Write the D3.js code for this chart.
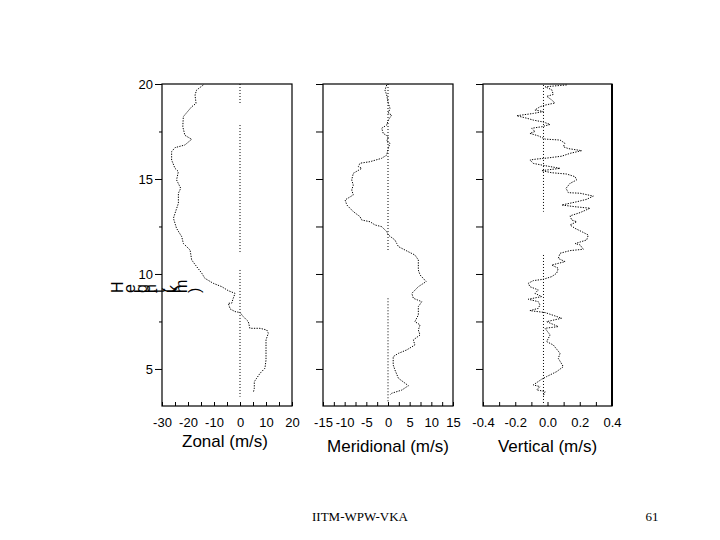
<!DOCTYPE html>
<html><head><meta charset="utf-8">
<script src="https://cdn.jsdelivr.net/npm/d3@7"></script>
<style>body{margin:0;background:#fff}svg{display:block}</style>
</head><body>
<svg id="c" width="720" height="540"></svg>
<script>
// ---- data ----
const zonalH = [19.95,19.68,19.42,18.98,18.8,18.28,17.75,17.3,17.09,16.79,16.65,16.44,16.0,15.56,15.39,14.95,14.51,14.25,13.72,13.19,12.93,12.4,11.96,11.61,11.26,10.74,10.39,10.04,9.77,9.51,9.33,9.12,8.98,8.72,8.46,8.46,8.16,8.02,7.97,7.75,7.49,7.14,7.14,7.14,7.05,6.88,6.53,6.0,5.47,5.04,4.77,4.51,4.33,3.98,3.75];
const zonal  = [-14.1,-16.7,-17.3,-16.9,-18.6,-21.8,-22.0,-21.2,-18.6,-21.2,-25,-26.3,-26.3,-25,-23.7,-24.4,-22.8,-23.7,-23.7,-25,-25.6,-24.4,-22.4,-21.8,-19.2,-18.6,-16.7,-14.7,-13.5,-10.3,-7.0,-4.5,-1.9,-2.6,-3.2,-4.5,-3.8,-1.9,0,1.3,3.2,3.8,5.8,7.7,10.3,10.9,10.0,10.0,10.0,9.6,7.7,6.4,5.5,5.5,5.1];

const meridH = [19.95,19.68,19.42,18.98,18.72,18.46,18.37,18.1,17.84,17.67,17.4,17.23,16.97,16.88,16.62,16.26,16.09,15.91,15.83,15.65,15.56,15.3,14.95,14.68,14.42,14.16,13.9,13.63,13.28,13.02,12.84,12.75,12.58,12.49,12.23,12.05,11.79,11.61,11.44,11.17,11.0,10.74,10.21,9.95,9.6,9.33,8.98,8.72,8.54,8.28,7.84,7.49,7.32,7.05,6.79,6.53,6.26,6.0,5.82,5.65,5.21,4.95,4.51,4.12,3.89,3.72,3.63];
const merid  = [-0.3,-0.7,-0.3,0.07,0.46,0.07,0.85,0.07,-0.3,-1.45,-1.1,0.07,-0.3,0.46,0.07,-0.3,-1.45,-4.15,-6.46,-6.85,-6.07,-8.0,-8.38,-8.0,-8.38,-8.0,-9.9,-9.5,-8.0,-6.46,-6.07,-4.15,-3.0,-1.45,-0.3,0.07,1.6,2.0,2.4,4.7,6.2,7.0,7.0,7.4,8.8,7.0,5.5,5.85,7.8,7.0,7.0,6.2,7.4,7.0,7.4,5.85,6.2,4.3,2.4,1.2,1.2,1.6,2.4,4.7,3.2,0.85,0.46];

const vertH = [19.95,19.9,19.85,19.7,19.45,19.35,19.16,19.0,18.89,18.8,18.63,18.55,18.45,18.33,18.2,18.1,18.0,17.87,17.75,17.67,17.5,17.4,17.27,17.1,17.05,16.88,16.7,16.6,16.49,16.35,16.2,16.1,16.05,16.0,15.82,15.7,15.56,15.44,15.33,15.26,15.12,14.95,14.77,14.51,14.28,14.25,14.1,13.93,13.8,13.63,13.54,13.46,13.23,13.06,12.84,12.75,12.58,12.4,12.23,12.05,11.79,11.6,11.53,11.3,11.23,11.09,10.82,10.65,10.47,10.3,10.04,9.86,9.72,9.65,9.51,9.33,9.16,8.98,8.81,8.67,8.54,8.37,8.19,8.07,7.97,7.67,7.49,7.23,7.14,6.79,6.44,6.26,5.82,5.56,5.12,4.86,4.6,4.46,4.16,4.07,3.9,3.81,3.58];
const vert  = [0.119,0.046,-0.015,0.026,0.036,-0.005,0.026,0.046,-0.015,-0.047,-0.078,-0.026,-0.088,-0.191,-0.129,-0.088,-0.026,0.016,-0.036,-0.098,-0.078,-0.109,-0.057,-0.015,0.078,0.108,0.098,0.129,0.212,0.140,0.088,-0.005,-0.067,-0.109,-0.088,-0.015,0.078,-0.036,0.026,0.119,0.171,0.181,0.140,0.115,0.129,0.202,0.284,0.243,0.181,0.088,0.171,0.264,0.202,0.140,0.150,0.181,0.140,0.171,0.212,0.253,0.243,0.171,0.202,0.222,0.140,0.078,0.067,0.109,0.026,0.067,0.057,0.026,-0.026,-0.088,-0.119,-0.109,-0.057,-0.078,-0.036,-0.119,-0.057,-0.047,-0.057,-0.109,-0.015,0.088,-0.005,0.067,-0.015,0.016,-0.005,0.036,0.078,0.067,0.098,0.057,-0.005,-0.036,-0.088,-0.047,-0.067,-0.015,-0.026];

// dotted reference line segments [top height, bottom height] and their x value
const zonalRef = [[20,18.98],[17.84,11.09],[10.21,3.54]];
const meridRef = [[20,11.26],[8.72,3.2]];
const vertRef  = [[19.95,13.28],[11.0,3.1]];
const refX = [0, 0, -0.025];

const heightTicks = [5,7.5,10,12.5,15,17.5,20];
const heightLabels = [5,10,15,20];
const xTickVals = [d3.range(-30,20.01,5), d3.range(-15,15.01,2.5), d3.range(-0.4,0.401,0.1)];
const xTickLabels = [[-30,-20,-10,0,10,20],[-15,-10,-5,0,5,10,15],[-0.4,-0.2,0,0.2,0.4]];
const xTitles = ["Zonal (m/s)","Meridional (m/s)","Vertical (m/s)"];
const xDomains = [[-30,20],[-15,15],[-0.4,0.4]];
const yTitle = "Height (km)";
const footer = "IITM-WPW-VKA";
const pageNo = "61";

// ---- layout ----
const svg = d3.select("#c");
const font = "'Liberation Sans', Arial, sans-serif";
const panelX = [[162,292],[323,453],[483,612]];
const topY = 84, bottomY = 406;
const y = d3.scaleLinear().domain([3.05,20]).range([bottomY, topY]);
const series = [[zonalH,zonal],[meridH,merid],[vertH,vert]];
const refs = [zonalRef, meridRef, vertRef];
const titleY = [447,452,452];

series.forEach((s, i) => {
  const x = d3.scaleLinear().domain(xDomains[i]).range(panelX[i]);
  const g = svg.append("g");
  // frame
  g.append("rect").attr("x", panelX[i][0]).attr("y", topY)
    .attr("width", panelX[i][1]-panelX[i][0]).attr("height", bottomY-topY)
    .attr("fill","none").attr("stroke","#000").attr("stroke-width",1.2);
  // x axis
  const labs = xTickLabels[i];
  const fmt = i===2 ? d3.format(".1f") : d3.format("d");
  const xa = g.append("g").attr("transform",`translate(0,${bottomY})`)
    .call(d3.axisBottom(x).tickValues(xTickVals[i]).tickSizeInner(-4).tickSizeOuter(0).tickPadding(12)
      .tickFormat(d => labs.some(l => Math.abs(l-d)<1e-9) ? fmt(Math.abs(d)<1e-9?0:d).replace("\u2212","-") : ""));
  xa.select(".domain").remove();
  xa.selectAll("line").attr("stroke","#000");
  xa.selectAll("text").attr("font-family",font).attr("font-size",13).attr("fill","#000");
  // y axis
  const ya = g.append("g").attr("transform",`translate(${panelX[i][0]},0)`)
    .call(d3.axisLeft(y).tickValues(heightTicks).tickSizeOuter(0).tickSizeInner(7).tickPadding(2)
      .tickFormat(d => (i===0 && heightLabels.includes(d)) ? d : ""));
  ya.select(".domain").remove();
  ya.selectAll("line").attr("stroke","#000");
  if (i===0) ya.selectAll(".tick").filter(d => !heightLabels.includes(d)).select("line").attr("x2",-3);
  ya.selectAll("text").attr("font-family",font).attr("font-size",13).attr("fill","#000");
  // reference dotted line
  refs[i].forEach(seg => {
    g.append("line").attr("x1", x(refX[i])).attr("x2", x(refX[i]))
      .attr("y1", y(seg[0])).attr("y2", y(seg[1]))
      .attr("stroke","#000").attr("stroke-width",1).attr("stroke-dasharray","1,2");
  });
  // profile
  const pts = s[0].map((h,k) => [s[1][k], h]);
  g.append("path").datum(pts)
    .attr("d", d3.line().x(d => x(d[0])).y(d => y(d[1])))
    .attr("fill","none").attr("stroke","#000").attr("stroke-width",1)
    .attr("stroke-dasharray","1.3,1.3");
  // title
  g.append("text").attr("x", (panelX[i][0]+panelX[i][1])/2 + (i===0?-2:0)).attr("y", titleY[i])
    .attr("text-anchor","middle").attr("font-family",font).attr("font-size",17)
    .text(xTitles[i]);
});
// right frame of last panel thicker
svg.append("line").attr("x1",panelX[2][1]).attr("x2",panelX[2][1]).attr("y1",topY).attr("y2",bottomY)
  .attr("stroke","#000").attr("stroke-width",2);

// y-axis title, glyphs rotated individually but laid out horizontally
let cx = 123;
const by = 293;
for (const ch of yTitle) {
  const t = svg.append("text").attr("transform",`translate(${cx},${by}) rotate(-90)`)
    .attr("font-family",font).attr("font-size",16).attr("fill","#000").text(ch);
  const w = ch === " " ? 4.4 : t.node().getComputedTextLength();
  cx += w;
}

// footer
svg.append("text").attr("x",360).attr("y",521).attr("text-anchor","middle")
  .attr("font-family","'Liberation Serif', 'Times New Roman', serif").attr("font-size",13).text(footer);
svg.append("text").attr("x",652).attr("y",521).attr("text-anchor","middle")
  .attr("font-family","'Liberation Serif', 'Times New Roman', serif").attr("font-size",13).text(pageNo);
</script>
</body></html>
